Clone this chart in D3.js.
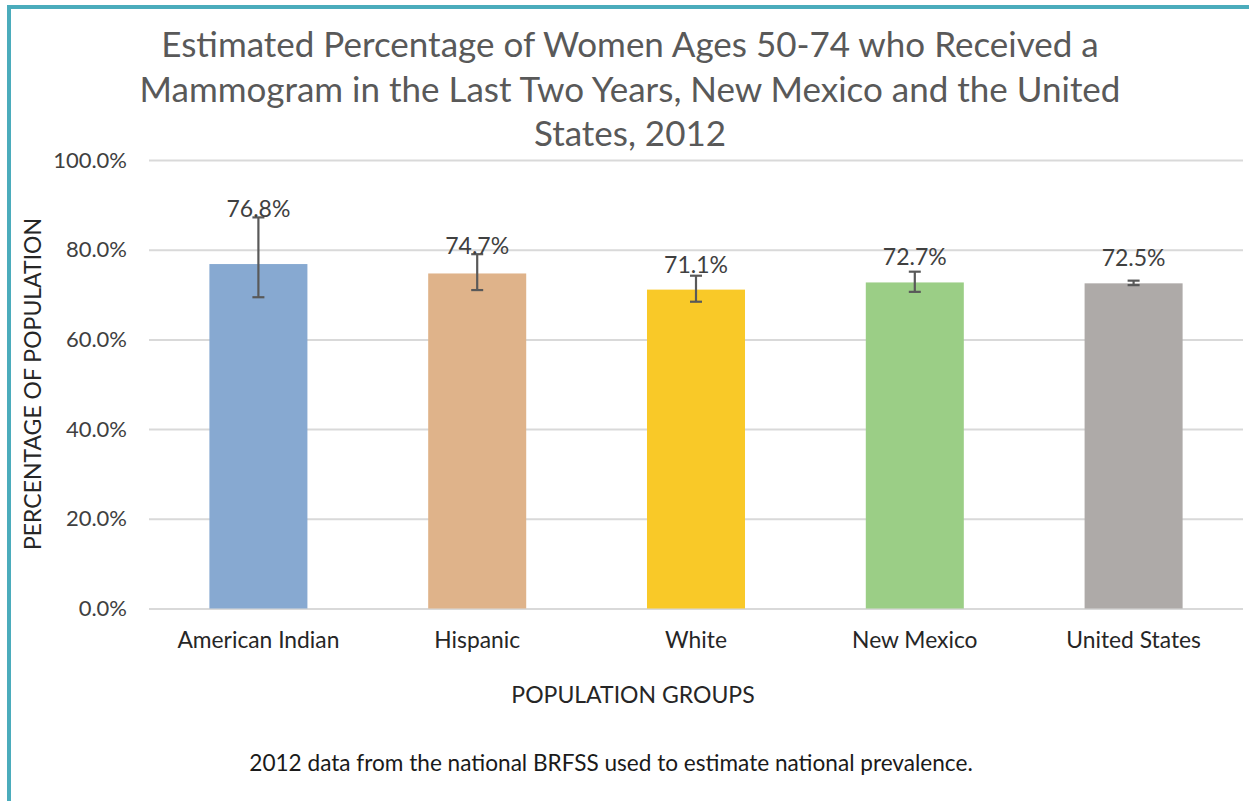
<!DOCTYPE html>
<html>
<head>
<meta charset="utf-8">
<script src="https://cdn.jsdelivr.net/npm/d3@7"></script>
<style>
  html, body { margin: 0; padding: 0; background: #fff; }
  svg { display: block; font-family: Lato, sans-serif; }
</style>
</head>
<body>
<svg width="1249" height="801"></svg>
<script>
const CATEGORIES = ["American Indian", "Hispanic", "White", "New Mexico", "United States"]
const VALUES = [76.8, 74.7, 71.1, 72.7, 72.5]
const CI_LOW = [69.4, 71.0, 68.4, 70.6, 72.1]
const CI_HIGH = [87.2, 79.0, 74.2, 75.1, 73.1]
const Y_TICKS = [0, 20, 40, 60, 80, 100]
const COLORS = ["#87a9d1", "#dfb38a", "#f9c928", "#9bce86", "#aeaaa8"]
const TITLE_LINES = [
  "Estimated Percentage of Women Ages 50-74 who Received a",
  "Mammogram in the Last Two Years, New Mexico and the United",
  "States, 2012"
]

const [WIDTH, HEIGHT] = [1249, 801]
const PLOT = { left: 149, right: 1243, top: 160, bottom: 608.5 }

const svg = d3.select("svg")

// frame
svg.append("rect").attr("x", 0).attr("y", 0).attr("width", WIDTH).attr("height", HEIGHT).attr("fill", "#fff")
svg.append("rect").attr("x", 7).attr("y", 5).attr("width", WIDTH - 7).attr("height", 4).attr("fill", "#4bacbc")
svg.append("rect").attr("x", 7).attr("y", 5).attr("width", 4).attr("height", HEIGHT - 5).attr("fill", "#4bacbc")

const data = CATEGORIES.map((name, i) => ({
  name, value: VALUES[i], low: CI_LOW[i], high: CI_HIGH[i], color: COLORS[i]
}))

const x = d3.scaleBand().domain(CATEGORIES).range([PLOT.left, PLOT.right]).paddingInner(0.552).paddingOuter(0.276)
const y = d3.scaleLinear().domain([0, 100]).range([PLOT.bottom, PLOT.top])

// title
svg.append("g").selectAll("text").data(TITLE_LINES).enter().append("text")
  .attr("x", 630).attr("y", (d, i) => 57 + i * 44.5)
  .attr("text-anchor", "middle").attr("fill", "#595959")
  .attr("font-size", 35)
  .text(d => d)

// gridlines + y axis labels
const yAxis = d3.axisLeft(y).tickValues(Y_TICKS)
  .tickSize(-(PLOT.right - PLOT.left)).tickPadding(22)
  .tickFormat(d => d.toFixed(1) + "%")
const gy = svg.append("g").attr("transform", `translate(${PLOT.left},0)`).call(yAxis)
gy.select(".domain").remove()
gy.selectAll(".tick line").attr("stroke", "#d9d9d9").attr("stroke-width", 2)
gy.selectAll(".tick text").attr("fill", "#404040").attr("font-size", 22).attr("font-family", "Lato")

// bars
svg.append("g").selectAll("rect").data(data).enter().append("rect")
  .attr("x", d => x(d.name)).attr("width", x.bandwidth())
  .attr("y", d => y(d.value)).attr("height", d => y(0) - y(d.value))
  .attr("fill", d => d.color)

// error bars
const err = svg.append("g").attr("stroke", "#595959").attr("stroke-width", 2.2)
data.forEach(d => {
  const cx = x(d.name) + x.bandwidth() / 2
  err.append("line").attr("x1", cx).attr("x2", cx).attr("y1", y(d.high)).attr("y2", y(d.low))
  err.append("line").attr("x1", cx - 6).attr("x2", cx + 6).attr("y1", y(d.high)).attr("y2", y(d.high))
  err.append("line").attr("x1", cx - 6).attr("x2", cx + 6).attr("y1", y(d.low)).attr("y2", y(d.low))
})

// data labels
svg.append("g").selectAll("text").data(data).enter().append("text")
  .attr("x", d => x(d.name) + x.bandwidth() / 2)
  .attr("y", d => Math.min(y(d.value) - 25, y(d.high) - 8))
  .attr("dy", "0.35em")
  .attr("text-anchor", "middle").attr("fill", "#404040").attr("font-size", 23)
  .text(d => d.value.toFixed(1) + "%")

// x axis labels
const xAxis = d3.axisBottom(x).tickSize(0).tickPadding(23)
const gx = svg.append("g").attr("transform", `translate(0,${PLOT.bottom})`).call(xAxis)
gx.select(".domain").remove()
gx.selectAll(".tick text").attr("fill", "#262626").attr("font-size", 22.8).attr("font-family", "Lato")

// axis titles
svg.append("text").attr("x", 633).attr("y", 703).attr("text-anchor", "middle")
  .attr("fill", "#262626").attr("font-size", 23).text("POPULATION GROUPS")
svg.append("text").attr("transform", "translate(41,384) rotate(-90)").attr("text-anchor", "middle")
  .attr("fill", "#262626").attr("font-size", 23).text("PERCENTAGE OF POPULATION")

// footnote
svg.append("text").attr("x", 611).attr("y", 771).attr("text-anchor", "middle")
  .attr("fill", "#1a1a1a").attr("font-size", 22.6)
  .text("2012 data from the national BRFSS used to estimate national prevalence.")
</script>
</body>
</html>
